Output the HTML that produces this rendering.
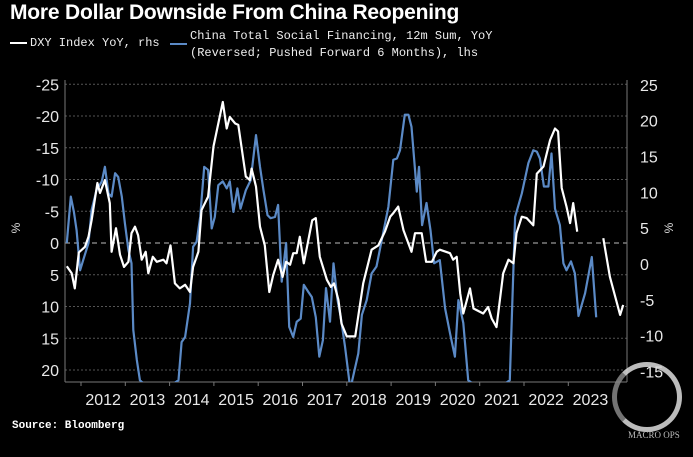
<!DOCTYPE html>
<html><head><meta charset="utf-8"><style>
html,body{margin:0;padding:0;background:#000;width:693px;height:457px;overflow:hidden;}
body{position:relative;font-family:"Liberation Sans",sans-serif;color:#fff;}
.t{position:absolute;white-space:nowrap;}
svg{display:block;}
</style></head><body>
<div class="t" style="left:10px;top:1px;font-size:21px;font-weight:bold;letter-spacing:-0.2px;">More Dollar Downside From China Reopening</div>
<div>
<div class="t" style="left:10px;top:36px;font:12px 'Liberation Mono',monospace;color:#eee;"><span style="display:inline-block;width:17px;height:2px;background:#fff;vertical-align:middle;margin-right:3px;"></span>DXY Index YoY, rhs</div>
<div class="t" style="left:170px;top:28px;font:12px 'Liberation Mono',monospace;color:#eee;line-height:17px;"><span style="display:inline-block;width:17px;height:2px;background:#5b8ac6;vertical-align:middle;margin-right:3px;position:relative;top:8px;"></span><span style="display:inline-block;vertical-align:top;">China Total Social Financing, 12m Sum, YoY<br>(Reversed; Pushed Forward 6 Months), lhs</span></div>
</div>
<svg id="chart" width="693" height="457" style="position:absolute;left:0;top:0;">
<defs><clipPath id="clip"><rect x="65" y="80" width="562" height="302"/></clipPath></defs>
<g id="grid"></g><g id="axes"></g>
<g clip-path="url(#clip)"><g id="series"></g></g>
</svg>
<div class="t" style="left:12px;top:420px;font:bold 11px 'Liberation Mono',monospace;line-height:12px;">Source: Bloomberg</div>
<div style="position:absolute;left:612px;top:362px;width:70px;height:70px;border-radius:50%;border:5px solid #ddd;border-left-color:#888;box-sizing:border-box;opacity:0.85;"></div>
<div class="t" style="left:628px;top:430px;height:12px;line-height:12px;font:9px 'Liberation Serif',serif;color:#bbb;">MACRO OPS</div>
<script>
const leftTicks=[-25,-20,-15,-10,-5,0,5,10,15,20];
const rightTicks=[25,20,15,10,5,0,-5,-10,-15];
const years=[2012,2013,2014,2015,2016,2017,2018,2019,2020,2021,2022,2023];
const dxyT=[2011.68,2011.79,2011.86,2011.95,2012.09,2012.17,2012.24,2012.37,2012.43,2012.54,2012.65,2012.69,2012.79,2012.88,2012.97,2013.07,2013.14,2013.22,2013.29,2013.37,2013.46,2013.52,2013.62,2013.71,2013.86,2013.93,2014.02,2014.12,2014.23,2014.35,2014.46,2014.53,2014.65,2014.72,2014.87,2014.99,2015.10,2015.20,2015.29,2015.36,2015.48,2015.55,2015.72,2015.81,2015.85,2015.95,2016.04,2016.15,2016.25,2016.34,2016.45,2016.55,2016.63,2016.72,2016.79,2016.87,2016.94,2017.03,2017.13,2017.22,2017.30,2017.39,2017.55,2017.64,2017.71,2017.81,2017.88,2018.00,2018.19,2018.37,2018.56,2018.71,2018.86,2018.98,2019.05,2019.16,2019.28,2019.46,2019.54,2019.69,2019.79,2019.92,2020.03,2020.10,2020.33,2020.40,2020.48,2020.56,2020.63,2020.78,2020.86,2021.08,2021.19,2021.27,2021.38,2021.53,2021.65,2021.76,2021.83,2021.95,2022.06,2022.21,2022.29,2022.44,2022.59,2022.70,2022.77,2022.85,2022.96,2023.04,2023.11,2023.20];
const dxyV=[-0.3,-1.3,-3.4,1.6,2.4,3.8,6.1,11.3,9.9,11.7,8.5,1.7,5.0,1.3,-0.4,0.3,4.3,5.2,4.0,0.6,1.7,-1.3,1.0,0.3,0.6,0.1,2.6,-2.7,-3.4,-2.9,-3.9,-0.4,1.7,7.5,9.4,16.4,19.6,22.6,18.9,20.5,19.6,19.4,12.2,11.7,13.3,10.8,5.2,2.6,-3.9,-1.5,0.6,-1.8,0.3,-0.1,1.5,1.5,3.8,0.1,3.3,6.1,6.4,1.0,-2.2,-3.2,-2.7,-5.0,-8.3,-10.1,-10.1,-2.7,2.0,2.6,4.5,6.6,7.1,8.0,4.7,1.7,4.3,4.3,0.3,0.3,1.7,2.0,1.5,0.6,1.0,-4.1,-6.9,-3.4,-6.2,-6.9,-6.0,-7.6,-8.8,-1.3,0.6,0.1,4.3,6.6,6.4,5.4,12.6,13.6,17.3,18.9,18.5,10.6,8.0,5.7,8.5,4.5];
const dxyFwdT=[2023.79,2023.94,2024.17,2024.24];
const dxyFwdV=[3.6,-1.8,-7.1,-5.7];
const tsfT=[2011.68,2011.77,2011.84,2011.90,2011.98,2012.05,2012.17,2012.24,2012.35,2012.47,2012.54,2012.62,2012.69,2012.77,2012.84,2012.92,2012.99,2013.07,2013.14,2013.18,2013.26,2013.33,2013.70,2014.20,2014.27,2014.35,2014.46,2014.53,2014.61,2014.69,2014.78,2014.87,2014.95,2015.02,2015.10,2015.20,2015.29,2015.36,2015.44,2015.53,2015.60,2015.72,2015.83,2015.95,2016.04,2016.12,2016.21,2016.28,2016.38,2016.45,2016.53,2016.63,2016.70,2016.79,2016.87,2016.96,2017.03,2017.13,2017.21,2017.30,2017.38,2017.46,2017.53,2017.62,2017.70,2017.79,2017.86,2017.96,2018.08,2018.26,2018.34,2018.45,2018.56,2018.67,2018.79,2018.94,2019.05,2019.13,2019.20,2019.31,2019.39,2019.46,2019.58,2019.63,2019.70,2019.80,2019.89,2019.97,2020.10,2020.22,2020.33,2020.44,2020.52,2020.63,2020.74,2021.20,2021.68,2021.80,2021.95,2022.10,2022.21,2022.29,2022.36,2022.45,2022.55,2022.62,2022.70,2022.81,2022.89,2022.96,2023.06,2023.15,2023.23,2023.38,2023.53,2023.63];
const tsfV=[0,-7.3,-4.9,-2.0,4.3,2.7,0,-5.2,-8.3,-9.7,-12.0,-7.8,-7.3,-11.0,-10.4,-7.3,-3.1,1.1,3.2,13.7,18.4,21.6,32,21.6,15.6,14.8,9.5,0.6,-0.2,-4.1,-12.0,-11.5,-2.3,-4.1,-9.1,-9.7,-8.6,-9.7,-4.9,-8.6,-5.4,-8.3,-9.9,-17.0,-12.0,-8.3,-4.4,-3.9,-4.1,-6.0,6.1,0,13.2,14.8,12.4,11.9,6.6,7.7,8.5,11.7,17.9,15.3,7.1,12.4,3.2,9.0,11.5,16.3,23,17.4,11.3,9.0,4.8,3.7,-0.5,-5.7,-13.1,-13.3,-14.6,-20.2,-20.2,-18.3,-8.1,-12.0,-2.8,-6.3,-2.0,3.2,2.7,10.3,14.2,17.9,9.0,12.6,21.6,38,21.6,-4.1,-7.8,-12.6,-14.6,-14.4,-13.3,-8.9,-8.9,-14.1,-5.4,-2.8,3.2,4.3,2.9,4.8,11.5,7.9,2.2,11.7];
const NS='http://www.w3.org/2000/svg';
const X=t=>81+(t-2012)*44.3;
const YL=v=>243+Math.max(-25,Math.min(24,v))*6.35;
const YR=v=>264-v*7.17;
function mk(tag,attrs,parent){const e=document.createElementNS(NS,tag);for(const k in attrs)e.setAttribute(k,attrs[k]);parent.appendChild(e);return e;}
const grid=document.getElementById('grid'),axes=document.getElementById('axes'),series=document.getElementById('series');
leftTicks.forEach(v=>{
  const l=mk('line',{x1:65,x2:627,y1:YL(v),y2:YL(v),stroke:v===0?'#bbb':'#555','stroke-width':1,'stroke-dasharray':v===0?'5,4':'2,2'},grid);
  
  
  const tx=mk('text',{x:59,y:YL(v)+6,'text-anchor':'end','font-size':16,fill:'#e8e8e8','font-family':'Liberation Sans, sans-serif'},axes);
  tx.textContent=v;
  
  
});
rightTicks.forEach(v=>{
  const tx=mk('text',{x:640,y:YR(v)+6,'text-anchor':'start','font-size':16,fill:'#e8e8e8','font-family':'Liberation Sans, sans-serif'},axes);
  tx.textContent=v;
  
  
});
const la=mk('line',{x1:65,x2:65,y1:80,y2:382,stroke:'#777'},axes);


const ra=mk('line',{x1:627,x2:627,y1:80,y2:382,stroke:'#777'},axes);


const ba=mk('line',{x1:65,x2:627,y1:382,y2:382,stroke:'#777'},axes);


years.forEach(y=>{
  const tk=mk('line',{x1:X(y),x2:X(y),y1:382,y2:386,stroke:'#777'},axes);
  
  
  const tx=mk('text',{x:X(y+0.5),y:405,'text-anchor':'middle','font-size':16,fill:'#e8e8e8','font-family':'Liberation Sans, sans-serif'},axes);
  tx.textContent=y;
  
  
});
const u1=mk('text',{x:0,y:0,'font-size':12,fill:'#ddd',transform:'translate(20,228) rotate(-90)','text-anchor':'middle'},axes);
u1.textContent='%';


const u2=mk('text',{x:0,y:0,'font-size':12,fill:'#ddd',transform:'translate(673,228) rotate(-90)','text-anchor':'middle'},axes);
u2.textContent='%';


function path(ts,vs,yf){return ts.map((t,i)=>(i?'L':'M')+X(t).toFixed(1)+','+yf(vs[i]).toFixed(1)).join('');}
const pb=mk('path',{d:path(tsfT,tsfV,YL),fill:'none',stroke:'#5b8ac6','stroke-width':2.2,'stroke-linejoin':'round'},series);


const pw=mk('path',{d:path(dxyT,dxyV,YR),fill:'none',stroke:'#fff','stroke-width':2.2,'stroke-linejoin':'round'},series);


const pf=mk('path',{d:path(dxyFwdT,dxyFwdV,YR),fill:'none',stroke:'#fff','stroke-width':2.2,'stroke-linejoin':'round'},series);


</script>
</body></html>
